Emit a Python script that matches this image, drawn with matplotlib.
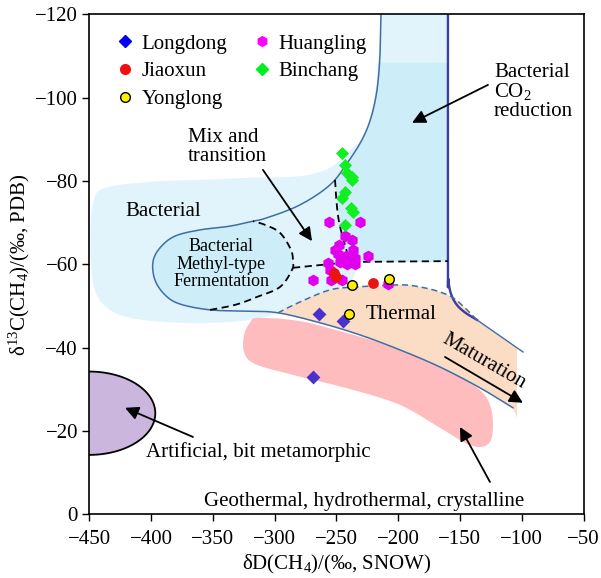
import numpy as np
import matplotlib
matplotlib.use("Agg")
import matplotlib.pyplot as plt
from matplotlib.patches import Polygon
from matplotlib.lines import Line2D

plt.rcParams['font.family'] = ['Liberation Serif', 'DejaVu Serif']
plt.rcParams['mathtext.fontset'] = 'custom'
plt.rcParams['mathtext.rm'] = 'Liberation Serif'
plt.rcParams['mathtext.it'] = 'Liberation Serif:italic'
plt.rcParams['mathtext.default'] = 'regular'
plt.rcParams['axes.unicode_minus'] = True

# ---------------- sample data: dD(CH4) and d13C(CH4) per block ----------------
longdong_dD = [-264.0, -244.4, -268.6]
longdong_d13C = [-48.1, -46.5, -32.9]

jiaoxun_dD = [-251.5, -250.5, -220.1]
jiaoxun_d13C = [-58.0, -57.0, -55.6]

yonglong_dD = [-237.6, -207.2, -239.5]
yonglong_d13C = [-55.1, -56.5, -48.0]

huangling_dD = [-256.0, -231.0, -243.0, -237.3, -248.0, -236.5, -248.7, -242.2,
                -224.4, -235.0, -256.8, -247.0, -241.4, -235.0, -255.0, -269.0,
                -254.3, -245.4, -208.2, -251.0]
huangling_d13C = [-70.2, -70.2, -66.8, -65.9, -64.7, -63.5, -62.5, -62.0,
                  -62.0, -61.6, -60.4, -60.6, -60.1, -60.1, -58.7, -56.3,
                  -56.3, -56.3, -55.3, -63.5]

binchang_dD = [-245.5, -243.0, -241.6, -237.6, -237.0, -243.0, -245.5, -238.0,
               -236.5, -243.0]
binchang_d13C = [-86.8, -83.9, -82.0, -81.0, -80.3, -77.5, -76.0, -73.5,
                 -72.7, -69.5]

legend_names = ['Longdong', 'Jiaoxun', 'Yonglong', 'Huangling', 'Binchang']

x_ticks = [-450, -400, -350, -300, -250, -200, -150, -100, -50]
y_ticks = [0, -20, -40, -60, -80, -100, -120]

# ---------------- genetic-field outlines (dD, d13C) ----------------
bacterial_zone = [(-159.7, -120), (-159.7, -60.6), (-230.9, -60.6), (-234.1, -58.7),
                  (-239.0, -54.6), (-255.1, -53.9), (-279.4, -51.0), (-297.2, -48.4),
                  (-311.8, -47.2), (-336.1, -46.2), (-376.5, -46.0), (-417.0, -47.2),
                  (-437.0, -50.0), (-446.5, -55.1), (-449.0, -65.9), (-447.0, -74.5),
                  (-438.0, -78.3), (-400.8, -79.8), (-360.3, -80.3), (-319.9, -80.8),
                  (-279.4, -81.2), (-255.1, -83.2), (-239.0, -87.5), (-228.4, -90.6),
                  (-221.2, -97.1), (-216.3, -106.7), (-213.9, -120)]

co2_zone = [(-216.3, -108.4), (-159.7, -108.4), (-159.7, -60.6), (-239.0, -60.6),
            (-247.1, -67.6), (-251.1, -80.3), (-240.6, -84.6), (-229.3, -89.9),
            (-222.0, -95.2), (-217.1, -101.9)]

main_curve = [(-213.9, -120), (-214.7, -110.3), (-217.1, -101.9), (-222.0, -95.2),
              (-229.3, -89.9), (-240.6, -84.6), (-255.1, -79.1), (-279.4, -74.3),
              (-306.1, -71.2), (-317.5, -70.4), (-336.1, -69.2), (-360.3, -68.3),
              (-380.6, -66.8), (-392.7, -64.0), (-398.4, -60.6), (-396.8, -56.3),
              (-388.7, -52.7), (-376.5, -50.5), (-352.2, -49.1), (-323.9, -48.8),
              (-297.2, -48.4), (-263.2, -46.0), (-230.9, -43.1), (-198.5, -39.5),
              (-166.2, -35.4), (-133.8, -30.4), (-107.1, -25.6)]

ferment_solid = main_curve[9:19]
ferment_dash = [(-352.2, -49.1), (-332.0, -50.3), (-314.2, -52.2), (-295.6, -54.6),
                (-285.9, -58.7), (-285.1, -60.6), (-286.7, -63.5), (-295.6, -67.6),
                (-307.7, -69.5), (-317.5, -70.4)]

mix_vertical = [(-251.1, -80.3), (-248.0, -70.5), (-239.0, -60.6)]
mix_horizontal = [(-285.1, -59.2), (-255.1, -60.1), (-239.0, -60.6), (-159.7, -60.8)]

thermal_top = [(-297.2, -48.4), (-279.4, -51.0), (-255.1, -53.9), (-233.4, -54.6),
               (-198.5, -55.1), (-182.3, -54.6), (-166.2, -53.4), (-153.2, -51.5),
               (-136.2, -46.7)]
thermal_zone = thermal_top + [(-103.8, -40.0), (-103.8, -23.2), (-107.1, -25.6),
                              (-133.8, -30.4), (-166.2, -35.4), (-198.5, -39.5),
                              (-230.9, -43.1), (-263.2, -46.0)]

co2_limit = [(-159.7, -120), (-159.7, -60.0), (-159.4, -56.5), (-157.5, -53.2),
             (-153.0, -50.5), (-146.0, -48.5), (-136.2, -46.7)]
thermal_limit = [(-136.2, -46.7), (-99.0, -39.0)]

geothermal_zone = [(-313.4, -47.2), (-279.4, -46.4), (-247.1, -44.0), (-214.7, -41.2),
                   (-182.3, -37.6), (-150.0, -33.0), (-132.2, -29.4), (-124.9, -25.6),
                   (-123.3, -20.8), (-125.7, -17.4), (-133.8, -16.2), (-145.9, -17.2),
                   (-166.2, -20.8), (-198.5, -26.3), (-239.0, -30.1), (-285.1, -33.5),
                   (-315.8, -36.1), (-324.7, -39.0), (-324.7, -43.1), (-319.9, -46.0)]


def smooth(points, n=14, closed=False):
    """Catmull-Rom spline through the given vertices."""
    p = np.asarray(points, float)
    if closed:
        p = np.vstack([p[-1], p, p[0], p[1]])
    else:
        p = np.vstack([p[0], p, p[-1]])
    t = np.linspace(0, 1, n, endpoint=False)[:, None]
    segs = []
    for i in range(1, len(p) - 2):
        p0, p1, p2, p3 = p[i - 1], p[i], p[i + 1], p[i + 2]
        segs.append(0.5 * (2 * p1 + (-p0 + p2) * t
                           + (2 * p0 - 5 * p1 + 4 * p2 - p3) * t ** 2
                           + (-p0 + 3 * p1 - 3 * p2 + p3) * t ** 3))
    if not closed:
        segs.append(p[-2][None])
    return np.vstack(segs)


fig = plt.figure(figsize=(6.01, 5.78), dpi=100)
ax = fig.add_axes([0.1484, 0.1099, 0.8225, 0.8651])
ax.set_xlim(-450, -50)
ax.set_ylim(0, -120)

LIGHT = '#e1f3fb'
DARK = '#cdedf9'
LINE = '#3f6ea6'

# filled fields
ax.add_patch(Polygon(np.vstack([bacterial_zone[:5], smooth(bacterial_zone[4:], 10)]),
                     closed=True, fc=LIGHT, ec='none', zorder=1))
ax.add_patch(Polygon(co2_zone, closed=True, fc=DARK, ec='none', zorder=1.1))
ferment = np.vstack([smooth(ferment_solid, 10), smooth(ferment_dash, 10)])
ax.add_patch(Polygon(ferment, closed=True, fc=DARK, ec='none', zorder=1.1))
ax.add_patch(Polygon(smooth(geothermal_zone, 10, closed=True), closed=True,
                     fc='#ffbcbe', ec='none', zorder=1.2))
thermal_poly = np.vstack([smooth(thermal_top, 10), thermal_zone[len(thermal_top):]])
ax.add_patch(Polygon(thermal_poly, closed=True, fc='#fbdcc4', ec='none', zorder=1.3))

# artificial / metamorphic field: half ellipse against the left edge
th = np.linspace(-np.pi / 2, np.pi / 2, 120)
art_x = -450 + 53.5 * np.cos(th)
art_y = -24.3 + 10.0 * np.sin(th)
ax.fill(art_x, art_y, fc='#cbb6de', ec='none', zorder=1.2)
ax.plot(art_x, art_y, color='black', lw=1.3, zorder=2)

# boundary lines
mc = smooth(main_curve, 14)
ax.plot(mc[:, 0], mc[:, 1], color=LINE, lw=1.1, zorder=2)
cl = smooth(co2_limit, 10)
ax.plot(cl[:, 0], cl[:, 1], color='#3c3f9e', lw=1.7, zorder=2)
tl = np.array(thermal_limit)
ax.plot(tl[:, 0], tl[:, 1], color=LINE, lw=1.0, zorder=2)
tt = smooth(thermal_top, 10)
ax.plot(tt[:, 0], tt[:, 1], color=LINE, lw=1.1, ls=(0, (4, 2.5)), zorder=2)
fd = smooth(ferment_dash, 10)
ax.plot(fd[:, 0], fd[:, 1], color='black', lw=1.3, ls=(0, (4, 2.5)), zorder=2)
mv = smooth(mix_vertical, 10)
ax.plot(mv[:, 0], mv[:, 1], color='black', lw=1.3, ls=(0, (4, 2.5)), zorder=2)
mh = np.array(mix_horizontal)
ax.plot(mh[:, 0], mh[:, 1], color='black', lw=1.3, ls=(0, (4, 2.5)), zorder=2)

# samples
ax.scatter(huangling_dD, huangling_d13C, marker='h', s=72, color='#e000ee', lw=0, zorder=4)
ax.scatter(longdong_dD, longdong_d13C, marker='D', s=50, color='#4a30cc', lw=0, zorder=4)
ax.scatter(binchang_dD, binchang_d13C, marker='D', s=44, color='#11ee22', lw=0, zorder=5)
ax.scatter(jiaoxun_dD, jiaoxun_d13C, marker='o', s=60, color='#ee1111', lw=0, zorder=6)
ax.scatter(yonglong_dD, yonglong_d13C, marker='o', s=48, color='#ffee00', ec='black',
           lw=1.0, zorder=7)

handles = [
    Line2D([], [], ls='none', marker='D', color='#0000ee', markersize=6),
    Line2D([], [], ls='none', marker='o', color='#ee1111', markersize=7),
    Line2D([], [], ls='none', marker='o', mfc='#ffee00', mec='black', mew=1.0, markersize=7),
    Line2D([], [], ls='none', marker='h', color='#ff00ff', markersize=7),
    Line2D([], [], ls='none', marker='D', color='#00ee22', markersize=6),
]
ax.legend(handles, legend_names, ncol=2, loc='upper left', bbox_to_anchor=(0.051, 0.961),
          frameon=False, fontsize=15, handlelength=1.0, handletextpad=0.3,
          columnspacing=1.15, labelspacing=0.39, borderpad=0, borderaxespad=0)

# annotations
FS = 15
arrow = dict(arrowstyle='-|>', color='black', lw=1.3, mutation_scale=20, shrinkA=0, shrinkB=0)
ax.text(-313.4, -15.0, 'Artificial, bit metamorphic', fontsize=FS, ha='center', va='center', zorder=8)
ax.annotate('', xy=(-421.0, -25.6), xytext=(-366.0, -18.6), arrowprops=arrow, zorder=8)
ax.text(-227.6, -3.2, 'Geothermal, hydrothermal, crystalline', fontsize=FS, ha='center',
        va='center', zorder=8)
ax.annotate('', xy=(-150.0, -21.0), xytext=(-125.7, -7.8), arrowprops=arrow, zorder=8)
ax.text(-197.7, -47.9, 'Thermal', fontsize=FS, ha='center', va='center', zorder=8)
ax.text(-130.5, -36.8, 'Maturation', fontsize=FS, ha='center', va='center', rotation=-30,
        rotation_mode='anchor', zorder=8)
ax.annotate('', xy=(-99.0, -26.8), xytext=(-162.1, -37.8), arrowprops=arrow, zorder=8)
ax.text(-122.4, -101.4, 'Bacterial\nCO$_2$\nreduction', fontsize=FS, ha='left', va='center',
        linespacing=0.95, zorder=8)
ax.annotate('', xy=(-188.8, -94.0), xytext=(-127.3, -103.1), arrowprops=arrow, zorder=8)
ax.text(-370.0, -88.2, 'Mix and\ntransition', fontsize=FS, ha='left', va='center',
        linespacing=1.0, zorder=8)
ax.annotate('', xy=(-269.7, -65.6), xytext=(-309.4, -82.7), arrowprops=arrow, zorder=8)
ax.text(-390.2, -72.6, 'Bacterial', fontsize=FS, ha='center', va='center', zorder=8)
ax.text(-343.3, -60.1, 'Bacterial\nMethyl-type\nFermentation', fontsize=13, ha='center',
        va='center', linespacing=1.05, zorder=8)

# axes
ax.set_xticks(x_ticks)
ax.set_yticks(y_ticks)
ax.tick_params(direction='out', length=5, width=1.0, labelsize=15, color='black')
ax.tick_params(axis='x', pad=6)
ax.tick_params(axis='y', pad=3)
for sp in ax.spines.values():
    sp.set_linewidth(1.2)
ax.set_xlabel('δD(CH$_4$)/(‰, SNOW)', fontsize=15)
ax.set_ylabel('δ$^{13}$C(CH$_4$)/(‰, PDB)', fontsize=15)
ax.xaxis.set_label_coords(0.5, -0.076)
ax.yaxis.set_label_coords(-0.116, 0.5)

fig.savefig('out.png', dpi=100)
